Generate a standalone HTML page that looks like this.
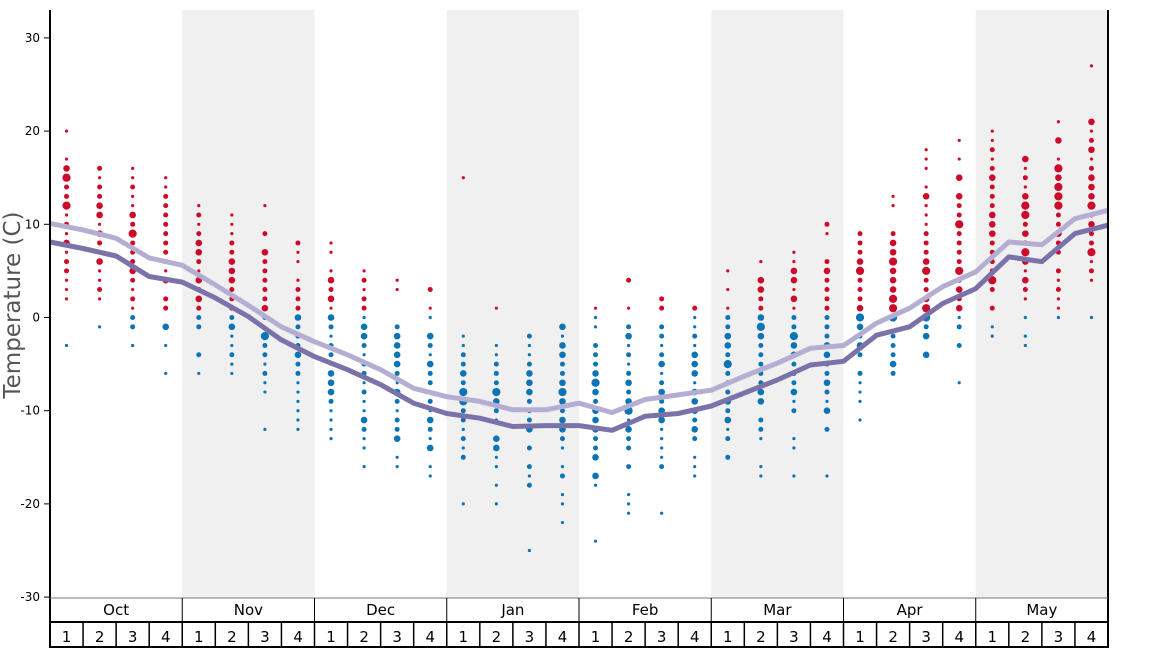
<!DOCTYPE html>
<html><head><meta charset="utf-8">
<style>
html,body{margin:0;padding:0;background:#fff;width:1168px;height:648px;overflow:hidden}
svg{display:block;font-family:"DejaVu Sans","Liberation Sans",sans-serif}
</style></head>
<body>
<svg id="chart" width="1168" height="648" viewBox="0 0 1168 648" xmlns="http://www.w3.org/2000/svg">
<g id="bands"></g>
<g id="grid"></g>
<g id="dots"></g>
<g id="lines"></g>
<g id="xaxis"></g>
<text transform="translate(20,305) rotate(-90)" text-anchor="middle" font-size="23" fill="#555">Temperature (C)</text>
</svg>
<script>
const months = ["Oct","Nov","Dec","Jan","Feb","Mar","Apr","May"];
const yTicks = [30,20,10,0,-10,-20,-30];
// per-week observations "temperature:size"
const weekObs = [
"20:1,17:1,16:3,15:4,14:2,13:2,12:4,11:1,10:2,9:1,8:3,7:1,6:2,5:2,4:1,3:1,2:1,-3:1",
"16:2,15:1,14:2,13:2,12:3,11:3,10:1,9:3,8:2,7:1,6:3,5:1,4:1,3:2,2:1,-1:1",
"16:1,15:1,14:2,13:1,12:1,11:3,10:2,9:4,8:2,7:2,6:2,5:3,4:2,3:1,2:2,1:1,0:2,-1:2,-3:1",
"15:1,14:1,13:2,12:2,11:2,10:2,9:2,8:2,7:2,6:2,5:1,4:3,2:2,1:2,-1:3,-3:1,-6:1",
"12:1,11:2,10:1,9:2,8:3,7:3,6:2,5:1,4:3,3:2,2:3,1:2,0:2,-1:2,-4:2,-6:1",
"11:1,10:1,9:1,8:2,7:2,6:3,5:3,4:3,3:2,2:2,1:2,0:2,-1:3,-2:1,-3:1,-4:2,-5:1,-6:1",
"12:1,9:2,7:3,6:2,5:2,4:2,3:2,2:2,1:3,0:2,-2:4,-3:2,-4:2,-5:1,-6:2,-7:1,-8:1,-12:1",
"8:2,7:1,6:1,4:1,3:2,2:2,1:2,0:3,-1:2,-2:2,-3:2,-4:3,-5:2,-6:2,-7:1,-8:1,-9:1,-10:1,-11:1,-12:1",
"8:1,7:1,5:1,4:3,3:2,2:3,1:1,0:3,-1:2,-2:1,-3:2,-4:2,-5:1,-6:3,-7:3,-8:3,-9:2,-10:1,-11:1,-12:1,-13:1",
"5:1,4:2,3:1,2:2,1:2,0:1,-1:3,-2:3,-3:2,-4:1,-5:2,-6:2,-7:1,-8:2,-9:1,-10:1,-11:3,-12:2,-13:1,-14:1,-16:1",
"4:1,3:1,-1:2,-2:3,-3:3,-4:3,-5:3,-6:2,-7:1,-8:3,-9:2,-10:1,-11:2,-12:2,-13:3,-15:1,-16:1",
"3:2,1:1,0:1,-2:3,-3:2,-4:1,-5:3,-6:2,-7:2,-8:1,-9:2,-10:1,-11:3,-12:2,-13:1,-14:3,-16:1,-17:1",
"15:1,-2:1,-3:1,-4:2,-5:2,-6:3,-7:2,-8:4,-9:4,-10:2,-11:2,-12:1,-13:2,-14:1,-15:2,-20:1",
"1:1,-3:1,-4:1,-5:2,-6:2,-7:2,-8:4,-9:3,-10:2,-11:1,-13:3,-14:3,-15:1,-16:1,-18:1,-20:1",
"-2:2,-3:1,-4:1,-5:2,-6:3,-7:3,-8:3,-9:2,-10:2,-11:2,-12:3,-14:2,-16:2,-17:1,-18:2,-25:1",
"-1:3,-2:1,-3:3,-4:3,-5:2,-6:2,-7:3,-8:4,-9:3,-10:2,-11:3,-12:3,-13:2,-14:1,-16:1,-17:2,-19:1,-20:1,-22:1",
"1:1,0:1,-1:1,-3:2,-4:2,-5:2,-6:3,-7:4,-8:3,-9:2,-10:3,-11:3,-12:3,-13:2,-14:2,-15:3,-17:3,-18:1,-24:1",
"4:2,1:1,-1:2,-2:3,-3:1,-4:2,-5:1,-6:2,-7:3,-8:2,-9:3,-10:4,-11:1,-12:3,-13:2,-14:2,-16:2,-19:1,-20:1,-21:1",
"2:2,1:2,-1:2,-2:2,-3:1,-4:2,-5:3,-6:1,-7:2,-8:3,-9:2,-10:3,-11:3,-12:1,-13:1,-14:1,-15:1,-16:2,-21:1",
"1:2,0:1,-1:1,-2:2,-3:1,-4:3,-5:3,-6:3,-7:1,-8:3,-9:3,-10:3,-11:2,-12:3,-13:2,-15:1,-16:1,-17:1",
"5:1,3:1,1:1,0:2,-1:2,-2:3,-3:3,-4:2,-5:4,-6:2,-7:2,-8:2,-9:3,-10:2,-11:3,-12:1,-13:2,-15:2",
"6:1,4:3,3:3,2:2,1:2,0:3,-1:4,-2:3,-3:2,-4:2,-5:2,-6:2,-7:2,-8:3,-9:3,-11:2,-12:2,-13:1,-16:1,-17:1",
"7:1,6:1,5:3,4:3,3:1,2:3,1:1,0:2,-1:2,-2:4,-3:3,-4:3,-5:2,-6:2,-7:2,-8:3,-9:1,-10:2,-13:1,-14:1,-17:1",
"10:2,9:1,6:2,5:3,4:2,3:2,2:2,1:2,0:2,-1:2,-2:2,-3:3,-4:3,-5:2,-6:2,-7:3,-8:2,-9:1,-10:3,-12:2,-17:1",
"9:2,8:2,7:2,6:3,5:4,4:2,3:2,2:2,1:3,0:4,-1:3,-2:2,-3:3,-4:2,-6:2,-7:1,-8:1,-9:1,-11:1",
"13:1,12:1,9:2,8:3,7:3,6:4,5:3,4:3,3:3,2:4,1:4,0:4,-2:2,-3:2,-4:2,-5:3,-6:2",
"18:1,17:1,16:1,14:1,13:3,12:1,11:1,10:1,9:2,8:2,7:2,6:3,5:4,4:2,3:2,2:3,1:4,0:4,-1:2,-2:3,-4:3",
"19:1,17:1,15:3,13:3,12:2,11:2,10:4,9:2,8:2,7:2,6:2,5:4,4:2,3:3,2:2,1:3,0:1,-1:2,-3:2,-7:1",
"20:1,19:1,18:2,17:1,16:2,15:3,14:2,13:2,12:2,11:3,10:3,9:3,8:2,7:2,6:2,5:2,4:4,3:2,1:2,-1:1,-2:1",
"17:3,16:1,15:2,14:1,13:3,12:4,11:4,10:2,9:3,8:2,7:4,6:3,5:1,4:3,3:2,2:1,0:1,-2:1,-3:1",
"21:1,19:3,17:1,16:4,15:3,14:4,13:4,12:4,11:2,10:2,9:3,8:2,7:2,5:2,4:1,3:2,2:1,1:1,0:1",
"27:1,21:3,20:1,19:2,18:3,17:1,16:2,15:3,14:3,13:3,12:4,11:2,10:3,9:2,8:2,7:4,6:1,5:2,4:1,0:1"
];
// line values at week boundaries (33 points)
const lightLine = [10.1,9.4,8.5,6.4,5.6,3.5,1.3,-1.0,-2.6,-4.0,-5.6,-7.6,-8.5,-9.0,-9.9,-9.9,-9.2,-10.2,-8.8,-8.3,-7.8,-6.3,-4.9,-3.3,-3.0,-0.6,1.0,3.3,4.9,8.1,7.8,10.6,11.5];
const darkLine = [8.1,7.4,6.6,4.4,3.8,2.1,0.1,-2.4,-4.2,-5.6,-7.2,-9.2,-10.3,-10.8,-11.7,-11.6,-11.6,-12.1,-10.6,-10.3,-9.5,-8.1,-6.7,-5.1,-4.7,-1.9,-1.0,1.5,3.1,6.5,6.0,9.0,9.9];

const NS="http://www.w3.org/2000/svg";
const X0=50,X1=1108,NW=32,WW=(X1-X0)/NW;
const PT=10,PB=598;
function y(t){return 317.5-t*9.32;}
function xw(i){return X0+(i+0.5)*WW;}
function xb(i){return X0+i*WW;}
function mk(tag,attrs,parent){const e=document.createElementNS(NS,tag);for(const k in attrs)e.setAttribute(k,attrs[k]);parent.appendChild(e);return e;}
const bands=document.getElementById('bands'),grid=document.getElementById('grid'),dots=document.getElementById('dots'),lines=document.getElementById('lines'),xa=document.getElementById('xaxis');
months.forEach((m,i)=>{if(i%2===1){const r=mk('rect',{x:X0+i*4*WW,y:PT,width:4*WW,height:PB-PT,fill:'#f0f0f0'},bands);

}});
yTicks.forEach(t=>{const l=mk('line',{x1:44,x2:50,y1:y(t),y2:y(t),stroke:'#000','stroke-width':1},grid);


const tx=mk('text',{x:40,y:y(t)+4,'text-anchor':'end','font-size':12,fill:'#000'},grid);tx.textContent=t;

});
const R=[0,1.6,2.5,3.3,4.1];
weekObs.forEach((s,i)=>{s.split(',').forEach(p=>{const [t,sz]=p.split(':').map(Number);
const c=mk('circle',{cx:xw(i),cy:y(t),r:R[sz],fill:t>0?'#cc0a2a':'#0a74b4'},dots);

});});
function path(arr){return 'M'+arr.map((v,i)=>xb(i).toFixed(1)+','+y(v).toFixed(1)).join('L');}
const p1=mk('path',{d:path(lightLine),fill:'none',stroke:'#b4afd2','stroke-width':5,'stroke-linejoin':'round'},lines);


const p2=mk('path',{d:path(darkLine),fill:'none',stroke:'#7b72aa','stroke-width':5,'stroke-linejoin':'round'},lines);


mk('line',{x1:X0,x2:X0,y1:PT,y2:648,stroke:'#000','stroke-width':2},xa);
mk('line',{x1:X1,x2:X1,y1:PT,y2:648,stroke:'#000','stroke-width':2},xa);
mk('line',{x1:X0,x2:X1,y1:PB,y2:PB,stroke:'#777','stroke-width':1},xa);
mk('line',{x1:X0,x2:X1,y1:622,y2:622,stroke:'#000','stroke-width':2},xa);
mk('line',{x1:X0,x2:X1,y1:647,y2:647,stroke:'#000','stroke-width':2},xa);
months.forEach((m,i)=>{const xm=X0+i*4*WW;
mk('line',{x1:xm+4*WW,x2:xm+4*WW,y1:PB,y2:622,stroke:'#000','stroke-width':1},xa);
const t=mk('text',{x:xm+2*WW,y:615,'text-anchor':'middle','font-size':15,fill:'#000'},xa);t.textContent=m;


for(let w=0;w<4;w++){const wx=xm+w*WW;
if(w>0||i>0)mk('line',{x1:wx,x2:wx,y1:622,y2:648,stroke:'#000','stroke-width':1.5},xa);
const tw=mk('text',{x:wx+WW/2,y:642,'text-anchor':'middle','font-size':15,fill:'#000'},xa);tw.textContent=w+1;

}});
</script>
</body></html>
